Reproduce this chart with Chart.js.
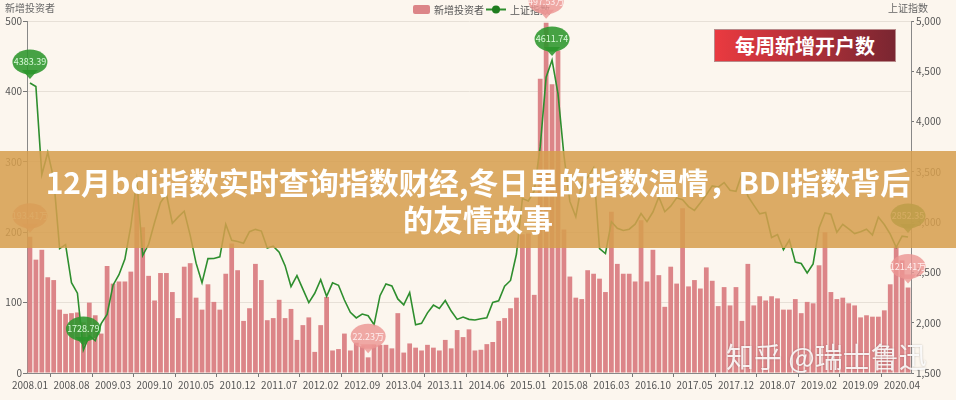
<!DOCTYPE html>
<html>
<head>
<meta charset="utf-8">
<script src="https://cdn.jsdelivr.net/npm/chart.js@4.4.1/dist/chart.umd.min.js"></script>
<style>
  html, body { margin: 0; padding: 0; background: #fcf6ee; }
  #wrap { position: relative; width: 956px; height: 400px; overflow: hidden; }
  #c { position: absolute; left: 0; top: 0; }
  .banner { position: absolute; left: 0; top: 151px; width: 956px; height: 97px; background: rgba(214, 158, 78, 0.86); }
  .title { position: absolute; left: 0; top: 163px; width: 956px; text-align: center; color: #fff;
           font: bold 30px "Noto Sans CJK SC", "Noto Sans", sans-serif; line-height: 37px; }
  .tag { position: absolute; left: 714px; top: 29px; width: 182px; height: 33px; box-sizing: border-box;
         border: 1px solid #b98a8a; background: linear-gradient(90deg, #ea3a40, #7a2631);
         color: #fff; text-align: center; font: bold 20px "Noto Sans CJK SC", sans-serif; line-height: 31px; }
  .mark { position: absolute; left: 726px; top: 336px; color: rgba(255,255,255,0.88);
          font: 28px "Noto Sans CJK SC", sans-serif; text-shadow: 0 0 2px rgba(0,0,0,0.25); }
</style>
</head>
<body>
<div id="wrap">
  <canvas id="c" width="956" height="400"></canvas>
  <div class="tag">每周新增开户数</div>
  <div class="banner"></div>
  <div class="title">12月bdi指数实时查询指数财经,冬日里的指数温情，BDI指数背后<br>的友情故事</div>
  <div class="mark">知乎 @瑞士鲁迅</div>
</div>
<script>
// ------------------ DADOS ------------------
const startYear = 2008;
const monthCount = 149; // 2008.01 .. 2020.05
const months = [];
for (let k = 0; k < monthCount; k++) {
    const y = startYear + Math.floor(k / 12);
    const m = (k % 12) + 1;
    months.push(y + "." + (m < 10 ? "0" + m : m));
}

// 新增投资者 (万)
const newInvestors = [
    193.41, 161, 175, 136, 132, 90, 84, 85, 86, 72, 100, 82,
    56, 152, 127, 130, 130, 144, 261, 207, 138, 103, 142, 142,
    115, 78, 151, 156, 107, 90, 126, 101, 90, 141, 184, 146,
    74, 92, 155, 132, 75, 78, 104, 78, 91, 47, 68, 79,
    30, 68, 108, 32, 34, 56, 32, 43, 38, 22.23, 40, 40,
    40, 35, 85, 29, 42, 36, 32, 40, 36, 32, 47, 35,
    61, 51, 62, 32, 33, 41, 44, 74, 78, 92, 107, 197,
    198, 111, 418, 497.53, 410, 458, 204, 137, 107, 105, 146, 141,
    134, 115, 229, 155, 141, 141, 130, 217, 130, 175, 139, 94,
    151, 127, 234, 123, 132, 120, 150, 131, 95, 122, 96, 122,
    74, 155, 96, 109, 103, 109, 106, 90, 90, 105, 85, 101,
    99, 153, 200, 115, 105, 107, 99, 96, 79, 82, 80, 80,
    89, 126, 180, 160, 121.41
];

// 上证指数 (fechamento mensal)
const shIndex = [
    4383.39, 4348.54, 3472.71, 3693.11, 3433.35, 2736.10, 2775.72, 2397.37, 2293.78, 1728.79, 1871.16, 1820.81,
    1990.66, 2082.85, 2373.21, 2477.57, 2632.93, 2959.36, 3412.06, 2667.75, 2779.43, 2995.85, 3195.30, 3277.14,
    2989.29, 3051.94, 3109.10, 2870.61, 2592.15, 2398.37, 2637.50, 2638.80, 2655.66, 2978.84, 2820.18, 2808.08,
    2790.69, 2905.05, 2928.11, 2911.51, 2743.47, 2762.08, 2701.73, 2567.34, 2359.22, 2468.25, 2333.41, 2199.42,
    2292.61, 2428.49, 2262.79, 2396.32, 2372.23, 2225.43, 2103.63, 2047.52, 2086.17, 2068.88, 1980.12, 2269.13,
    2385.42, 2365.59, 2236.62, 2177.91, 2300.60, 1979.21, 1993.80, 2098.38, 2174.67, 2141.61, 2220.50, 2115.98,
    2033.08, 2056.30, 2033.31, 2026.36, 2039.21, 2048.33, 2201.56, 2217.20, 2363.87, 2420.18, 2682.84, 3234.68,
    3210.36, 3310.30, 3747.90, 4441.66, 4611.74, 4277.22, 3663.73, 3205.99, 3052.78, 3382.56, 3445.40, 3539.18,
    2737.60, 2687.98, 3003.92, 2938.32, 2916.62, 2929.61, 2979.34, 3085.49, 3004.70, 3100.49, 3250.03, 3103.64,
    3159.17, 3241.73, 3222.51, 3154.66, 3117.18, 3192.43, 3273.03, 3360.81, 3348.94, 3393.34, 3317.19, 3307.17,
    3480.83, 3259.41, 3168.90, 3082.23, 3095.47, 2847.42, 2876.40, 2725.25, 2821.35, 2602.78, 2588.19, 2493.90,
    2584.57, 2940.95, 3090.76, 3078.34, 2898.70, 2978.88, 2932.51, 2886.24, 2905.19, 2929.06, 2871.98, 3050.12,
    2976.53, 2880.30, 2750.30, 2860.08, 2852.35
];

const leftTicks = [0, 100, 200, 300, 400, 500];
const rightTicks = [1500, 2000, 2500, 3000, 3500, 4000, 4500, 5000];

// pontos marcados (primeiro, mínimo, máximo, último)
const barMarks = [0, 57, 87, 148];
const lineMarks = [0, 9, 88, 148];

const FONT = '"Noto Sans CJK SC", "Noto Sans", sans-serif';
const BAR_COLOR = "#dc8588";
const LINE_COLOR = "#2e8e2e";

// ------------------ PIN / LEGENDA ------------------
function drawPin(ctx, x, y, fill, txtColor, text) {
    const tip = y - 4;
    const cy = tip - 17;
    ctx.save();
    ctx.fillStyle = fill;
    ctx.beginPath();
    ctx.ellipse(x, cy, 17.5, 12.5, 0, 0, Math.PI * 2);
    ctx.fill();
    ctx.beginPath();
    ctx.moveTo(x - 8, cy + 8);
    ctx.lineTo(x, tip);
    ctx.lineTo(x + 8, cy + 8);
    ctx.closePath();
    ctx.fill();
    ctx.fillStyle = txtColor;
    ctx.font = "9px " + FONT;
    ctx.textAlign = "center";
    ctx.textBaseline = "middle";
    ctx.fillText(text, x, cy);
    ctx.restore();
}

const extras = {
    id: "extras",
    afterDraw(chart) {
        const ctx = chart.ctx;
        // títulos dos eixos
        ctx.save();
        ctx.font = "10px " + FONT;
        ctx.fillStyle = "#666";
        ctx.textBaseline = "middle";
        ctx.textAlign = "left";
        ctx.fillText("新增投资者", 5, 8);
        ctx.textAlign = "right";
        ctx.fillText("上证指数", 928, 8);

        // legenda
        ctx.fillStyle = BAR_COLOR;
        ctx.beginPath();
        ctx.roundRect(413, 5, 17, 9, 2);
        ctx.fill();
        ctx.fillStyle = "#555";
        ctx.textAlign = "left";
        ctx.fillText("新增投资者", 434, 10);
        ctx.strokeStyle = LINE_COLOR;
        ctx.lineWidth = 2;
        ctx.beginPath();
        ctx.moveTo(486, 9.5);
        ctx.lineTo(506, 9.5);
        ctx.stroke();
        ctx.fillStyle = "#1f7d1f";
        ctx.beginPath();
        ctx.arc(496, 9.5, 4, 0, Math.PI * 2);
        ctx.fill();
        ctx.fillStyle = "#555";
        ctx.fillText("上证指数", 510, 10);
        ctx.restore();

        // marcadores
        const barMeta = chart.getDatasetMeta(1).data;
        const lineMeta = chart.getDatasetMeta(0).data;
        barMarks.forEach(i => {
            const el = barMeta[i];
            drawPin(ctx, el.x, el.y, "rgba(236,150,148,0.82)", "rgba(255,240,240,0.95)", newInvestors[i].toFixed(2) + "万");
        });
        lineMarks.forEach(i => {
            const el = lineMeta[i];
            drawPin(ctx, el.x, el.y, "rgba(44,150,44,0.88)", "rgba(225,255,225,0.95)", shIndex[i].toFixed(2));
        });
    }
};

// ------------------ GRÁFICO ------------------
const ctx = document.getElementById("c").getContext("2d");
new Chart(ctx, {
    type: "bar",
    data: {
        labels: months,
        datasets: [
            {
                type: "line",
                label: "上证指数",
                data: shIndex,
                yAxisID: "y1",
                borderColor: LINE_COLOR,
                borderWidth: 1.6,
                pointRadius: 0,
                tension: 0,
                order: 0
            },
            {
                type: "bar",
                label: "新增投资者",
                data: newInvestors,
                yAxisID: "y",
                backgroundColor: BAR_COLOR,
                barPercentage: 0.8,
                categoryPercentage: 1,
                order: 1
            }
        ]
    },
    options: {
        responsive: false,
        animation: false,
        devicePixelRatio: 1,
        layout: { padding: { top: 21, left: 0, right: 0, bottom: 0 } },
        plugins: {
            legend: { display: false },
            tooltip: { enabled: false }
        },
        scales: {
            x: {
                offset: true,
                afterFit: s => { s.height = 27; },
                grid: {
                    drawOnChartArea: false,
                    tickLength: 4,
                    tickColor: c => (c.index % 7 === 4 ? "#777" : "rgba(0,0,0,0)")
                },
                border: { color: "#888" },
                ticks: {
                    autoSkip: false,
                    maxRotation: 0,
                    padding: 2,
                    color: "#555",
                    font: { size: 10, family: FONT },
                    callback: (v, i) => (i % 7 === 0 ? months[i] : "")
                }
            },
            y: {
                position: "left",
                min: leftTicks[0],
                max: leftTicks[leftTicks.length - 1],
                afterFit: s => { s.width = 27; },
                afterBuildTicks: s => { s.ticks = leftTicks.map(v => ({ value: v })); },
                grid: { color: "#e7e0d7", tickColor: "#777", tickLength: 4 },
                border: { color: "#888" },
                ticks: { padding: 1, color: "#555", font: { size: 10, family: FONT } }
            },
            y1: {
                position: "right",
                min: rightTicks[0],
                max: rightTicks[rightTicks.length - 1],
                afterFit: s => { s.width = 45; },
                afterBuildTicks: s => { s.ticks = rightTicks.map(v => ({ value: v })); },
                grid: { drawOnChartArea: false, tickColor: "#777", tickLength: 3 },
                border: { color: "#888" },
                ticks: {
                    padding: 2,
                    color: "#555",
                    font: { size: 10, family: FONT },
                    callback: v => v.toLocaleString("en-US")
                }
            }
        }
    },
    plugins: [extras]
});
</script>
</body>
</html>
